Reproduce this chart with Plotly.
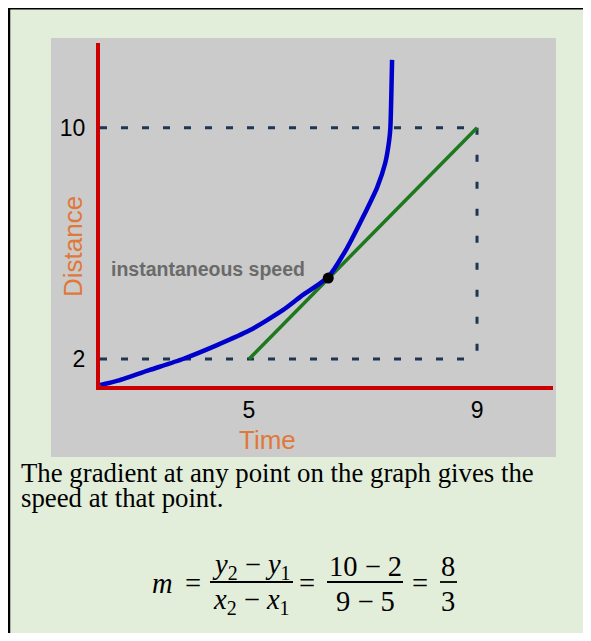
import plotly.graph_objects as go

# curva distancia-tiempo
tiempo = [2.39, 2.70, 3.26, 3.84, 4.44, 5.02, 5.60, 5.90, 6.39, 6.72, 7.00, 7.25, 7.39, 7.46, 7.48, 7.51]
distancia = [1.10, 1.25, 1.62, 2.00, 2.48, 3.00, 3.70, 4.15, 4.84, 5.84, 6.91, 7.95, 8.78, 9.58, 10.0, 12.35]

# tangente y punto de contacto
tangente_x = [5, 9]
tangente_y = [2, 10]
punto_x = [6.39]
punto_y = [4.80]

# guias punteadas
guia_h_x = [2.386, 9, None, 2.386, 9]
guia_h_y = [10, 10, None, 2, 2]
guia_v_x = [9, 9]
guia_v_y = [10, 2]

ticks_x = [5, 9]
ticks_y = [2, 10]

# la pagina html trae 8px de margen en el body, todo se corre 8px
# (tamaño menor para que no aparezcan barras de scroll)
OFF = 8
W, H = 591 - 2 * OFF, 641 - 2 * OFF
L, R, T, B = 100 - OFF, 553 - OFF, 43 - OFF, 386 - OFF


# pasar pixeles de la pagina a coordenadas "paper"
def px(x):
    return (x - OFF - L) / (R - L)


def py(y):
    return (B - (y - OFF)) / (B - T)


fig = go.Figure()

fig.add_trace(go.Scatter(x=guia_h_x, y=guia_h_y, mode="lines",
                         line=dict(color="#1d3654", width=3, dash="7px,14px")))
fig.add_trace(go.Scatter(x=guia_v_x, y=guia_v_y, mode="lines",
                         line=dict(color="#1d3654", width=3, dash="7px,20px")))
fig.add_trace(go.Scatter(x=tangente_x, y=tangente_y, mode="lines",
                         line=dict(color="#1e781e", width=3.5)))
fig.add_trace(go.Scatter(x=tiempo, y=distancia, mode="lines",
                         line=dict(color="#0000cc", width=4.5, shape="spline", smoothing=0.6)))
fig.add_trace(go.Scatter(x=punto_x, y=punto_y, mode="markers",
                         marker=dict(color="black", size=11)))


def texto(x, y, t, font, **kw):
    opts = dict(xanchor="center", yanchor="middle")
    opts.update(kw)
    fig.add_annotation(x=px(x), y=py(y), xref="paper", yref="paper", text=t,
                       showarrow=False, font=font, **opts)


texto(208, 269, "<b>instantaneous speed</b>", dict(family="Arial", size=19.5, color="#6a6a6a"))

# titulos de ejes
naranja = dict(family="Arial", size=26, color="#e0783a")
texto(73, 247, "Distance", naranja, textangle=-90)
texto(267, 440, "Time", naranja)

# texto de abajo
serif = "Liberation Serif, Times New Roman, serif"
parrafo = dict(family=serif, size=26.8, color="black")
texto(19, 473, "The gradient at any point on the graph gives the", parrafo, xanchor="left")
texto(19, 498, "speed at that point.", parrafo, xanchor="left")

# formula m = (y2-y1)/(x2-x1) = (10-2)/(9-5) = 8/3
f = dict(family=serif, size=28.5, color="black")
piezas = [
    (162, 583, "<i>m</i>"), (193, 583, "="),
    (251, 566, "<i>y</i><sub>2</sub> − <i>y</i><sub>1</sub>"),
    (251, 601, "<i>x</i><sub>2</sub> − <i>x</i><sub>1</sub>"),
    (307, 583, "="),
    (365, 566, "10 − 2"), (365, 601, "9 − 5"),
    (420, 583, "="),
    (448, 566, "8"), (448, 601, "3"),
]
for x0, y0, t in piezas:
    texto(x0, y0, t, f)
for a, b in [(210, 293), (327, 403), (440, 457)]:
    fig.add_shape(type="line", xref="paper", yref="paper", x0=px(a), x1=px(b),
                  y0=py(582), y1=py(582), line=dict(color="black", width=1.8))

# fondo gris del grafico y borde del recuadro
fig.add_shape(type="rect", xref="paper", yref="paper", layer="below",
              x0=px(51), x1=px(556), y0=py(457), y1=py(38),
              fillcolor="#cbcbcb", line=dict(width=0))
fig.add_shape(type="line", xref="paper", yref="paper", x0=px(8), x1=px(600),
              y0=py(8.6), y1=py(8.6), line=dict(color="black", width=2))
fig.add_shape(type="line", xref="paper", yref="paper", x0=px(9), x1=px(9),
              y0=py(7.6), y1=py(650), line=dict(color="black", width=2.5))

fig.update_xaxes(range=[2.386, 10.333], showline=True, linecolor="#cc0000", linewidth=4,
                 showgrid=False, zeroline=False, tickvals=ticks_x, ticks="",
                 ticklabelstandoff=0, tickfont=dict(family="Arial", size=23, color="black"))
fig.update_yaxes(range=[1.066, 12.934], showline=True, linecolor="#cc0000", linewidth=4,
                 showgrid=False, zeroline=False, tickvals=ticks_y, ticks="",
                 ticklabelstandoff=6, tickfont=dict(family="Arial", size=23, color="black"))

fig.update_layout(
    width=W, height=H,
    margin=dict(l=L, r=W - R, t=T, b=H - B),
    paper_bgcolor="#e2eeda", plot_bgcolor="rgba(0,0,0,0)",
    showlegend=False,
)

fig.write_html("out.html")
